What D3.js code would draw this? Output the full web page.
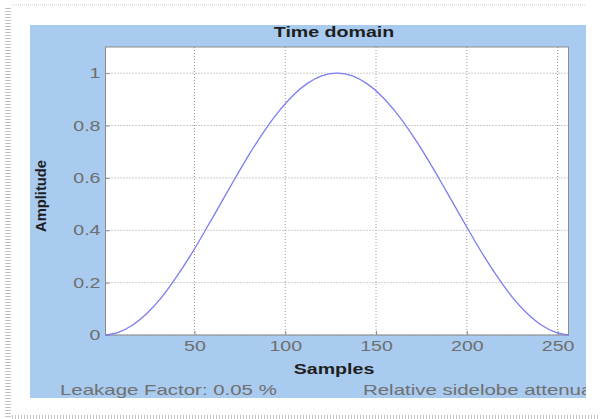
<!DOCTYPE html>
<html>
<head>
<meta charset="utf-8">
<script src="https://cdn.jsdelivr.net/npm/d3@7/dist/d3.min.js"></script>
<style>
  html, body { margin: 0; padding: 0; background: #ffffff; }
  svg { display: block; }
  text { font-family: "Liberation Sans", Arial, Helvetica, sans-serif; }
</style>
</head>
<body>
<svg id="chart" width="600" height="419"></svg>
<script>
// ---- data ----
const samples = [1, 8, 16, 24, 32, 40, 48, 56, 64, 72, 80, 88, 96, 104, 112, 120, 128,
                 129, 137, 145, 153, 161, 169, 177, 185, 193, 201, 209, 217, 225, 233, 241, 249, 256];
const amplitude = [0.000, 0.010, 0.038, 0.084, 0.145, 0.221, 0.306, 0.400, 0.497, 0.594, 0.688, 0.774, 0.850, 0.913, 0.960, 0.990, 1.000,
                   1.000, 0.990, 0.960, 0.913, 0.850, 0.774, 0.688, 0.594, 0.497, 0.400, 0.306, 0.221, 0.145, 0.084, 0.038, 0.010, 0.000];
const xTicks = [50, 100, 150, 200, 250];
const yTicks = [0, 0.2, 0.4, 0.6, 0.8, 1];
const xDomain = [1, 256];
const yDomain = [0, 1.1];
const titleText = "Time domain";
const xLabel = "Samples";
const yLabel = "Amplitude";
const leakageText = "Leakage Factor: 0.05 %";
const sidelobeText = "Relative sidelobe attenuation: -31.5 dB";

const svg = d3.select("#chart");
const SX = 1.4; // horizontal stretch of the screenshot text
const SXB = 1.46;

// outer page decorations
svg.append("line").attr("x1", 12).attr("x2", 586).attr("y1", 5).attr("y2", 5)
  .attr("stroke", "#cfcfcf").attr("stroke-width", 1).attr("stroke-dasharray", "1,1");
svg.append("line").attr("x1", 8).attr("x2", 8).attr("y1", 8).attr("y2", 419)
  .attr("stroke", "#c4c4c4").attr("stroke-width", 6).attr("stroke-dasharray", "1,2");
svg.append("line").attr("x1", 12).attr("x2", 600).attr("y1", 417).attr("y2", 417)
  .attr("stroke", "#c4c4c4").attr("stroke-width", 4).attr("stroke-dasharray", "1,2");

// blue figure panel
const panel = { x: 30, y: 25, w: 556, h: 373 };
svg.append("defs").append("clipPath").attr("id", "panelClip")
  .append("rect").attr("x", panel.x).attr("y", panel.y).attr("width", panel.w).attr("height", panel.h);
svg.append("rect").attr("x", panel.x).attr("y", panel.y).attr("width", panel.w).attr("height", panel.h)
  .attr("fill", "#a9cbef");

// plot area
const plot = { left: 105.5, right: 568.5, top: 47, bottom: 335 };
const x = d3.scaleLinear().domain(xDomain).range([plot.left, plot.right]);
const y = d3.scaleLinear().domain(yDomain).range([plot.bottom, plot.top]);

svg.append("rect").attr("x", plot.left).attr("y", plot.top)
  .attr("width", plot.right - plot.left).attr("height", plot.bottom - plot.top)
  .attr("fill", "#ffffff");

// grid
const grid = svg.append("g");
grid.selectAll(".vg").data(xTicks).join("line")
  .attr("x1", d => x(d)).attr("x2", d => x(d)).attr("y1", plot.top).attr("y2", plot.bottom)
  .attr("stroke", "#9a9a9a").attr("stroke-width", 1).attr("stroke-dasharray", "1,2");
grid.selectAll(".hg").data(yTicks).join("line")
  .attr("x1", plot.left).attr("x2", plot.right).attr("y1", d => y(d)).attr("y2", d => y(d))
  .attr("stroke", "#9a9a9a").attr("stroke-width", 1).attr("stroke-dasharray", "1,2");

// axes
const xAxis = svg.append("g").attr("transform", `translate(0,${plot.bottom})`)
  .call(d3.axisBottom(x).tickValues(xTicks).tickSizeInner(-4).tickSizeOuter(0).tickPadding(6).tickFormat(d3.format("d")));
const yAxis = svg.append("g").attr("transform", `translate(${plot.left},0)`)
  .call(d3.axisLeft(y).tickValues(yTicks).tickSizeInner(-4).tickSizeOuter(0).tickPadding(5).tickFormat(d => d === 0 || d === 1 ? d3.format("d")(d) : d3.format(".1f")(d)));
[xAxis, yAxis].forEach(a => {
  a.select(".domain").remove();
  a.selectAll(".tick line").attr("stroke", "#8a8a8a");
  a.selectAll(".tick text").attr("fill", "#6e6e6e").style("font-size", "14px")
    .style("font-family", "'Liberation Sans', Arial, sans-serif");
});
xAxis.selectAll(".tick text").attr("transform", `scale(${SX},1)`);
yAxis.selectAll(".tick text").attr("x", -5 / SX).attr("transform", `scale(${SX},1)`);

// plot box border
svg.append("rect").attr("x", plot.left).attr("y", plot.top)
  .attr("width", plot.right - plot.left).attr("height", plot.bottom - plot.top)
  .attr("fill", "none").attr("stroke", "#8c8c8c").attr("stroke-width", 1);

// curve
const line = d3.line().x((d, i) => x(samples[i])).y(d => y(d)).curve(d3.curveMonotoneX);
svg.append("path").datum(amplitude).attr("d", line)
  .attr("fill", "none").attr("stroke", "#7c7cf2").attr("stroke-width", 1.3);

// texts
function stretchedText(txt, cx, cy, opts) {
  const sx = opts.sx || SX;
  return svg.append("text")
    .attr("transform", `translate(${cx},${cy}) scale(${sx},1)`)
    .attr("text-anchor", opts.anchor || "middle")
    .attr("fill", opts.fill || "#222")
    .style("font-size", (opts.size || 14) + "px")
    .style("font-weight", opts.weight || "normal")
    .text(txt);
}
stretchedText(titleText, (plot.left + plot.right) / 2 - 3, 37, { weight: "bold", fill: "#1e1e1e" });
stretchedText(xLabel, (plot.left + plot.right) / 2 - 3, 374, { weight: "bold", fill: "#1e1e1e" });
stretchedText(leakageText, 60, 395, { anchor: "start", fill: "#707070", sx: SXB });
const g2 = svg.append("g").attr("clip-path", "url(#panelClip)");
g2.append("text")
  .attr("transform", `translate(363,395) scale(${SXB},1)`)
  .attr("text-anchor", "start").attr("fill", "#707070")
  .style("font-size", "14px")
  .text(sidelobeText);

svg.append("text")
  .attr("transform", `translate(46,196) rotate(-90)`)
  .attr("text-anchor", "middle").attr("fill", "#1e1e1e")
  .style("font-size", "14px").style("font-weight", "bold")
  .attr("textLength", 72).attr("lengthAdjust", "spacingAndGlyphs")
  .text(yLabel);
</script>
</body>
</html>
